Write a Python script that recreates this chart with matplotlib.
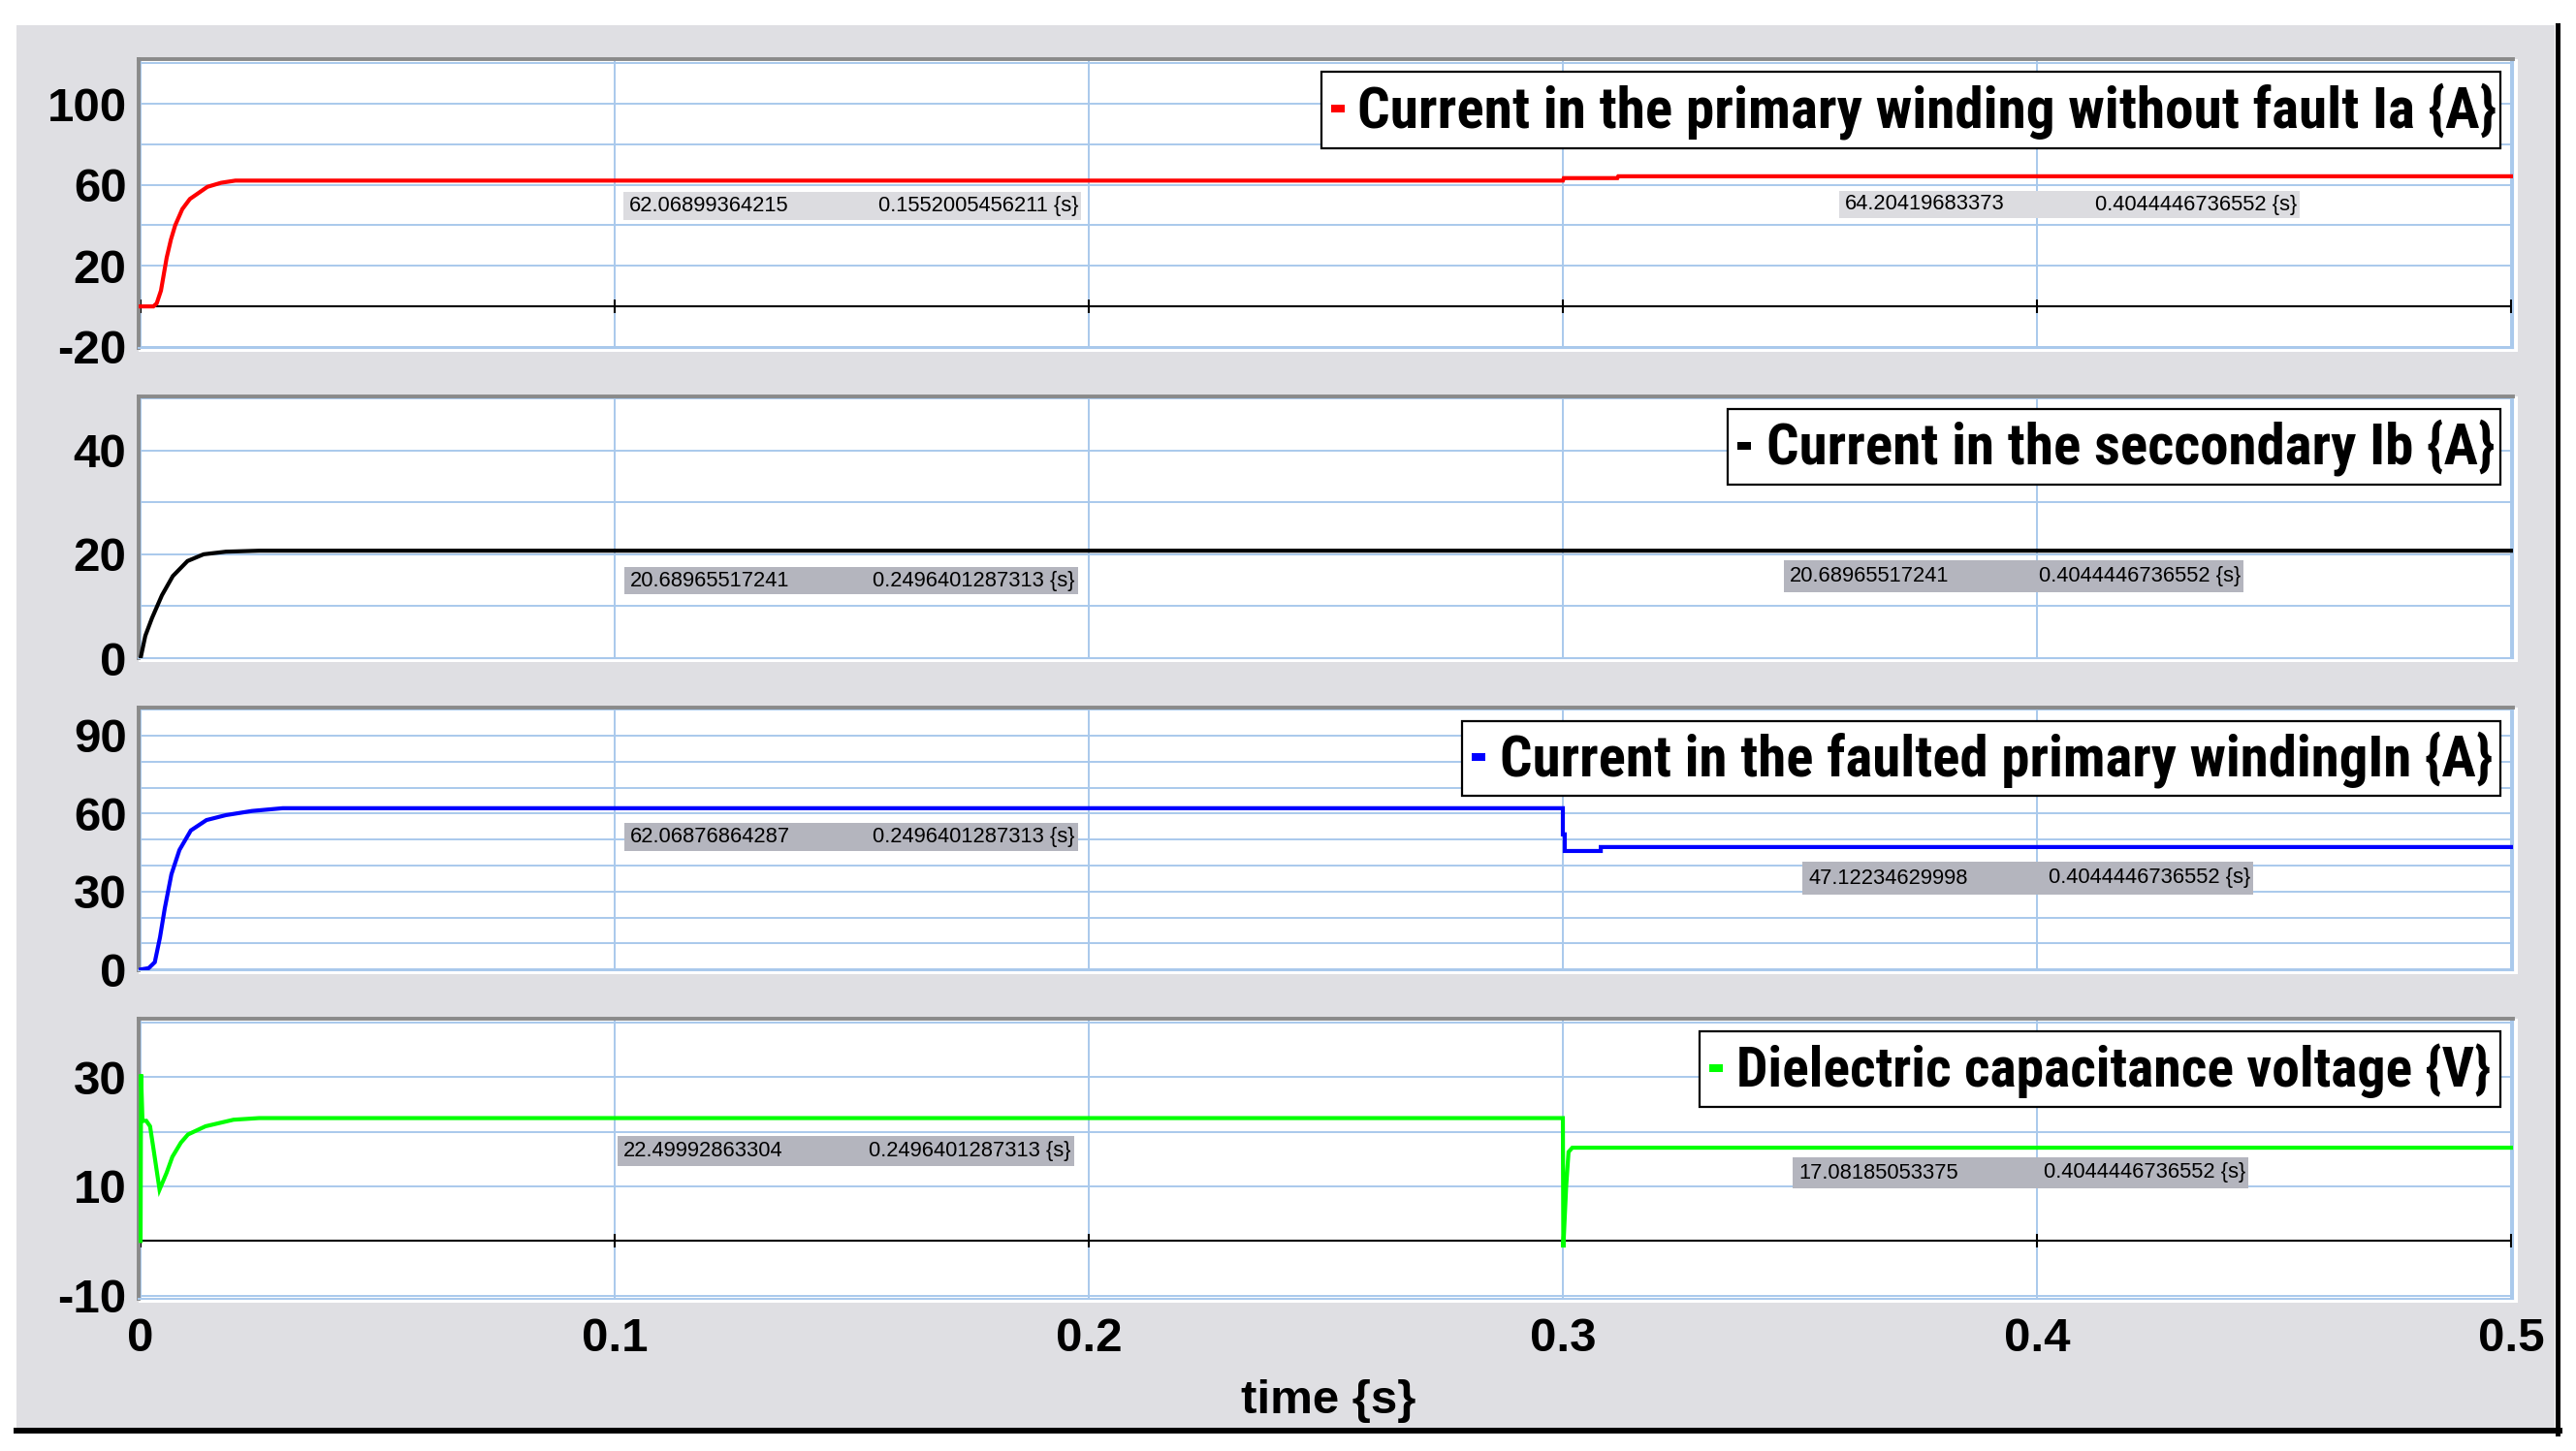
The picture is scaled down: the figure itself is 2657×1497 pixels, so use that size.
import matplotlib
matplotlib.use('Agg')
import matplotlib.pyplot as plt
from matplotlib.patches import Rectangle
from matplotlib.lines import Line2D
from matplotlib import font_manager as fm

# ---------------- data ----------------
time_ticks = [0.0, 0.1, 0.2, 0.3, 0.4, 0.5]
time_tick_labels = ['0', '0.1', '0.2', '0.3', '0.4', '0.5']

# Panel 1: current in primary winding without fault Ia {A}
t_ia = [0.0, 0.0027, 0.0034, 0.0043, 0.0055, 0.0064, 0.0073, 0.0088, 0.0104, 0.0141, 0.017, 0.020,
        0.3, 0.3002, 0.3115, 0.3117, 0.5]
ia = [0.0, 0.0, 1.5, 7.8, 24.0, 33.0, 40.0, 48.0, 53.0, 59.0, 61.0, 62.07,
      62.07, 63.3, 63.3, 64.2, 64.2]

# Panel 2: current in the secondary Ib {A}
t_ib = [0.0, 0.001, 0.0024, 0.0045, 0.0068, 0.0099, 0.0133, 0.018, 0.025, 0.5]
ib = [0.0, 4.3, 7.7, 12.1, 15.8, 18.7, 20.0, 20.5, 20.69, 20.69]

# Panel 3: current in the faulted primary winding In {A}
t_in = [0.0, 0.0017, 0.003, 0.0041, 0.0051, 0.0065, 0.0082, 0.0106, 0.0139, 0.018, 0.0235, 0.03,
        0.3, 0.3, 0.3004, 0.3004, 0.308, 0.308, 0.5]
i_n = [0.0, 0.5, 2.8, 12.4, 23.5, 36.6, 46.0, 53.5, 57.5, 59.4, 61.0, 62.07,
       62.07, 52.0, 52.0, 45.6, 45.6, 47.12, 47.12]

# Panel 4: dielectric capacitance voltage {V}
t_vc = [0.0, 0.0001, 0.0004, 0.0012, 0.002, 0.0027, 0.004, 0.0055, 0.0067, 0.0085, 0.010, 0.0137,
        0.0196, 0.025, 0.3, 0.3001, 0.3007, 0.3012, 0.302, 0.5]
vc = [0.0, 30.5, 22.0, 22.0, 21.0, 17.0, 9.4, 12.5, 15.4, 18.0, 19.5, 21.0,
      22.2, 22.5, 22.5, -1.2, 10.0, 16.3, 17.08, 17.08]

legend_labels = ['Current in the primary winding without fault Ia {A}',
                 'Current in the seccondary Ib {A}',
                 'Current in the faulted primary windingIn {A}',
                 'Dielectric capacitance voltage {V}']
series_colors = ['#ff0000', '#000000', '#0000ff', '#00ff00']

ytick_labels = [[-20, 20, 60, 100], [0, 20, 40], [0, 30, 60, 90], [-10, 10, 30]]
ygrid_vals = [[-20, 0, 20, 40, 60, 80, 100, 120],
              [0, 10, 20, 30, 40, 50],
              [0, 10, 20, 30, 40, 50, 60, 70, 80, 90, 100],
              [-10, 0, 10, 20, 30, 40]]

cursor_values = [
    [('62.06899364215', '0.1552005456211 {s}'), ('64.20419683373', '0.4044446736552 {s}')],
    [('20.68965517241', '0.2496401287313 {s}'), ('20.68965517241', '0.4044446736552 {s}')],
    [('62.06876864287', '0.2496401287313 {s}'), ('47.12234629998', '0.4044446736552 {s}')],
    [('22.49992863304', '0.2496401287313 {s}'), ('17.08185053375', '0.4044446736552 {s}')],
]

# ---------------- fonts ----------------
W, H = 2657, 1497
names = {f.name for f in fm.fontManager.ttflist}
condensed_entries = {f.name for f in fm.fontManager.ttflist
                     if str(f.stretch) in ('condensed', 'semi-condensed', 'extra-condensed', 'ultra-condensed')
                     or (isinstance(f.stretch, (int, float)) and f.stretch < 500)}
NARROW_STRETCH = 'normal'
NARROW = None
for cand in ['Liberation Sans Narrow', 'Arial Narrow', 'DejaVu Sans Condensed', 'Roboto Condensed',
             'Open Sans Condensed', 'Noto Sans Condensed', 'Noto Sans SemiCondensed']:
    if cand in names:
        NARROW = cand
        break
if NARROW is None:
    for cand in ['DejaVu Sans', 'Noto Sans', 'Open Sans', 'Roboto']:
        if cand in condensed_entries:
            NARROW = cand
            NARROW_STRETCH = 'condensed'
            break
if NARROW is None:
    NARROW = 'Liberation Sans'
BOLD = 'Liberation Sans' if 'Liberation Sans' in names else 'DejaVu Sans'
SMALL = 'Liberation Sans Narrow' if 'Liberation Sans Narrow' in names else 'Liberation Sans'

fig = plt.figure(figsize=(W / 100, H / 100), dpi=100)
fig.patch.set_facecolor('white')


def fx(p):
    return p / W


def fy(p):
    return 1 - p / H


# grey window background with black shadow lines
fig.patches.append(Rectangle((fx(17), fy(1475)), fx(2635) - fx(17), fy(26) - fy(1475),
                             transform=fig.transFigure, facecolor='#dfdfe3', edgecolor='none', zorder=0))
fig.add_artist(Line2D([fx(2637.5), fx(2637.5)], [fy(26), fy(1479)], color='black', lw=3.6, zorder=1))
fig.add_artist(Line2D([fx(17), fx(2640)], [fy(1476), fy(1476)], color='black', lw=4.3, zorder=1))

AX_L, AX_R = 143, 2592
panels_px = [(61, 359), (409, 679), (730, 1001), (1051, 1340)]
ylims = [(-20.5, 122.0), (0.0, 50.4), (-0.3, 100.8), (-10.6, 40.7)]
zero_line = [True, False, False, True]
XLIM = (-2 / 4890, 0.5 + 2 / 4890)

legend_box_px = [(1363, 74, 153), (1782, 422, 500), (1508, 744, 821), (1753, 1064, 1142)]
legend_text_px = [(1400, 2576), (1822, 2573), (1547, 2570), (1791, 2570)]
cursor_box_px = [
    [(643, 1115, 198, 227), (1897, 2372, 197, 225)],
    [(644, 1112, 585, 613), (1840, 2314, 578, 611)],
    [(644, 1112, 849, 878), (1859, 2324, 889, 923)],
    [(637, 1108, 1172, 1203), (1849, 2319, 1194, 1226)],
]
cursor_colors = ['#dcdce0', '#b4b5be', '#b4b5be', '#b4b5be']
LEG_R = 2579

series = [(t_ia, ia), (t_ib, ib), (t_in, i_n), (t_vc, vc)]
grid_c = '#a9c9ec'

fit_items = []
cursor_texts = []
axes = []
for k, (top, bot) in enumerate(panels_px):
    # white highlight on right/bottom of each plot frame
    fig.patches.append(Rectangle((fx(AX_L), fy(bot + 4)), fx(AX_R + 5) - fx(AX_L), fy(top) - fy(bot + 4),
                                 transform=fig.transFigure, facecolor='white', edgecolor='none', zorder=1))
    ax = fig.add_axes([fx(AX_L), fy(bot), fx(AX_R) - fx(AX_L), fy(top) - fy(bot)])
    ax.set_zorder(2)
    axes.append(ax)
    ax.set_facecolor('white')
    ax.set_xlim(*XLIM)
    ax.set_ylim(*ylims[k])
    ax.set_xticks(time_ticks)
    ax.set_yticks(ytick_labels[k])
    ax.set_yticks(ygrid_vals[k], minor=True)
    ax.grid(True, which='both', color=grid_c, lw=1.4)
    ax.set_axisbelow(True)
    ax.tick_params(which='both', length=0)
    ax.tick_params(axis='y', pad=9)
    ax.set_yticklabels([str(v) for v in ytick_labels[k]], fontsize=35.5, fontweight='bold', family=BOLD)
    if k == 3:
        ax.set_xticklabels(time_tick_labels, fontsize=35.5, fontweight='bold', family=BOLD)
        ax.tick_params(axis='x', pad=14)
    else:
        ax.set_xticklabels([])
    for s in ['bottom', 'right']:
        ax.spines[s].set_color(grid_c)
        ax.spines[s].set_linewidth(1.5)
    for s in ['top', 'left']:
        ax.spines[s].set_color('#8a8a8a')
        ax.spines[s].set_linewidth(2.8)

    if zero_line[k]:
        ax.axhline(0, color='black', lw=1.5, zorder=2)
        ax.plot(time_ticks, [0] * len(time_ticks), ls='none', marker='|', ms=10, mew=1.5,
                color='black', zorder=2, clip_on=False)

    t, v = series[k]
    ax.plot(t, v, color=series_colors[k], lw=3.0, zorder=3, solid_joinstyle='miter')

    def axx(p):
        return (p - AX_L) / (AX_R - AX_L)

    def axy(p, top=top, bot=bot):
        return (bot - p) / (bot - top)

    # cursor readout boxes
    for (x0, x1, y0, y1), (s1, s2) in zip(cursor_box_px[k], cursor_values[k]):
        ax.add_patch(Rectangle((axx(x0), axy(y1)), axx(x1) - axx(x0), axy(y0) - axy(y1),
                               transform=ax.transAxes, facecolor=cursor_colors[k], edgecolor='none', zorder=4))
        yc = axy((y0 + y1) / 2)
        t1 = ax.text(axx(x0 + 6), yc, s1, transform=ax.transAxes, ha='left', va='center',
                     fontsize=17.5, family=SMALL, color='black', zorder=5)
        t2 = ax.text(axx(x1 - 3), yc, s2, transform=ax.transAxes, ha='right', va='center',
                     fontsize=17.5, family=SMALL, color='black', zorder=5)
        cursor_texts.extend([t1, t2])
        if k == 0 and x0 < 1000:
            fit_items.append(('cursor', t1, 164))

    # legend box
    lx, ly0, ly1 = legend_box_px[k]
    ax.add_patch(Rectangle((axx(lx), axy(ly1)), axx(LEG_R) - axx(lx), axy(ly0) - axy(ly1),
                           transform=ax.transAxes, facecolor='white', edgecolor='black', lw=1.6, zorder=6))
    mc = (ly0 + ly1) / 2 - 1.5
    ax.add_patch(Rectangle((axx(lx + 10), axy(mc + 4)), axx(lx + 24) - axx(lx + 10), axy(mc - 4) - axy(mc + 4),
                           transform=ax.transAxes, facecolor=series_colors[k], edgecolor='none', zorder=7))
    tx0, tx1 = legend_text_px[k]
    base = ly0 + 0.73 * (ly1 - ly0)
    lt = ax.text(axx(tx0), axy(base), legend_labels[k], transform=ax.transAxes, ha='left', va='baseline',
                 fontsize=38, fontweight='bold', family=NARROW, fontstretch=NARROW_STRETCH,
                 color='black', zorder=7)
    fit_items.append(('legend', lt, tx1 - tx0))

fig.text(fx(1370), fy(1445), 'time {s}', ha='center', va='center', fontsize=35.5,
         fontweight='bold', family=BOLD)

# fit text widths to the measured widths
fig.canvas.draw()
renderer = fig.canvas.get_renderer()
cursor_size = None
for kind, txt, target in fit_items:
    w = txt.get_window_extent(renderer).width
    new = txt.get_fontsize() * target / w
    txt.set_fontsize(new)
    if kind == 'cursor':
        cursor_size = new
if cursor_size is not None:
    for txt in cursor_texts:
        txt.set_fontsize(cursor_size)

fig.savefig('out.png', dpi=100, facecolor='white')
